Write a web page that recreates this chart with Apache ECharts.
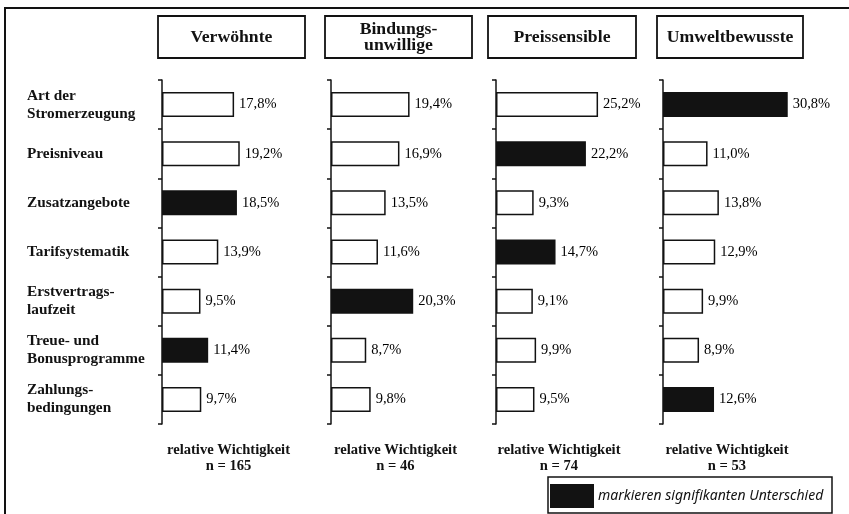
<!DOCTYPE html>
<html>
<head>
<meta charset="utf-8">
<script src="https://cdn.jsdelivr.net/npm/echarts@6/dist/echarts.min.js"></script>
<style>
  html, body { margin: 0; padding: 0; background: #fff; }
  #chart { width: 849px; height: 514px; }
</style>
</head>
<body>
<div id="chart"></div>
<script>
// Kriterien (Zeilen) und Segmente (Spalten)
const categories = [
  'Art der\nStromerzeugung',
  'Preisniveau',
  'Zusatzangebote',
  'Tarifsystematik',
  'Erstvertrags-\nlaufzeit',
  'Treue- und\nBonusprogramme',
  'Zahlungs-\nbedingungen'
];
const segments = ['Verwöhnte', 'Bindungs-\nunwillige', 'Preissensible', 'Umweltbewusste'];
const sampleSizes = [165, 46, 74, 53];

// relative Wichtigkeit in %
const valuesVerwoehnte = [17.8, 19.2, 18.5, 13.9, 9.5, 11.4, 9.7];
const valuesBindungsunwillige = [19.4, 16.9, 13.5, 11.6, 20.3, 8.7, 9.8];
const valuesPreissensible = [25.2, 22.2, 9.3, 14.7, 9.1, 9.9, 9.5];
const valuesUmweltbewusste = [30.8, 11.0, 13.8, 12.9, 9.9, 8.9, 12.6];

// 1 = signifikanter Unterschied (schwarz gefüllt)
const sigVerwoehnte = [0, 0, 1, 0, 0, 1, 0];
const sigBindungsunwillige = [0, 0, 0, 0, 1, 0, 0];
const sigPreissensible = [0, 1, 0, 1, 0, 0, 0];
const sigUmweltbewusste = [1, 0, 0, 0, 0, 0, 1];

const allValues = [valuesVerwoehnte, valuesBindungsunwillige, valuesPreissensible, valuesUmweltbewusste];
const allSig = [sigVerwoehnte, sigBindungsunwillige, sigPreissensible, sigUmweltbewusste];

const INK = '#121212';
const SERIF = '"Liberation Serif", "Times New Roman", serif';

// Layout der vier Spalten
const axisX = [162, 331, 496, 663];
const boxes = [[158, 147], [325, 147], [488, 148], [657, 146]];
const gridTop = 80, gridHeight = 344, gridWidth = 162, xMax = 40;

const grids = [], xAxes = [], yAxes = [], series = [], graphics = [];

// Außenrahmen
graphics.push({
  type: 'rect', shape: { x: 5, y: 8, width: 900, height: 600 },
  style: { fill: 'none', stroke: INK, lineWidth: 2 }
});

allValues.forEach((vals, i) => {
  grids.push({ left: axisX[i], top: gridTop, width: gridWidth, height: gridHeight });
  xAxes.push({ type: 'value', gridIndex: i, min: 0, max: xMax, show: false });
  yAxes.push({
    type: 'category', gridIndex: i, inverse: true, data: categories,
    axisLine: { show: true, lineStyle: { color: INK, width: 1.5 } },
    axisTick: { show: true, length: 4, lineStyle: { color: INK, width: 1.5 } },
    axisLabel: {
      show: i === 0, align: 'left', margin: axisX[0] - 27,
      fontFamily: SERIF, fontWeight: 'bold', fontSize: 15.3, lineHeight: 18, color: INK
    },
    splitLine: { show: false }
  });
  series.push({
    type: 'bar', xAxisIndex: i, yAxisIndex: i, barWidth: 25,
    data: vals.map((v, k) => ({
      value: v,
      itemStyle: { color: allSig[i][k] ? INK : '#fff', borderColor: INK, borderWidth: 1.5 }
    })),
    label: {
      show: true, position: 'right', distance: 5,
      fontFamily: SERIF, fontSize: 14.5, color: '#000',
      formatter: p => p.value.toFixed(1).replace('.', ',') + '%'
    },
    animation: false
  });

  // Kopfkasten mit Segmentname
  const [bx, bw] = boxes[i];
  graphics.push({
    type: 'rect', shape: { x: bx, y: 16, width: bw, height: 42 },
    style: { fill: '#fff', stroke: INK, lineWidth: 1.8 }
  });
  graphics.push({
    type: 'text', x: bx + bw / 2, y: 37,
    style: {
      text: segments[i], align: 'center', verticalAlign: 'middle',
      font: 'bold 17.7px ' + SERIF, lineHeight: 16, fill: INK
    }
  });

  // Fußzeile
  graphics.push({
    type: 'text', x: bx + bw / 2 - 3, y: 458.5,
    style: {
      text: 'relative Wichtigkeit\nn = ' + sampleSizes[i], align: 'center', verticalAlign: 'middle',
      font: 'bold 14.6px ' + SERIF, lineHeight: 16, fill: INK
    }
  });
});

// Legende
graphics.push({
  type: 'rect', shape: { x: 548, y: 477, width: 284, height: 36 },
  style: { fill: '#fff', stroke: INK, lineWidth: 1.5 }
});
graphics.push({
  type: 'rect', shape: { x: 550, y: 484, width: 44, height: 24 },
  style: { fill: INK }
});
graphics.push({
  type: 'text', x: 598, y: 496,
  style: {
    text: 'markieren signifikanten Unterschied', align: 'left', verticalAlign: 'middle',
    font: 'italic 14px "Noto Sans", sans-serif', fill: INK
  }
});

const chart = echarts.init(document.getElementById('chart'), null, { renderer: 'canvas' });
chart.setOption({
  backgroundColor: '#fff',
  animation: false,
  grid: grids,
  xAxis: xAxes,
  yAxis: yAxes,
  series: series,
  graphic: { elements: graphics }
});
</script>
</body>
</html>
